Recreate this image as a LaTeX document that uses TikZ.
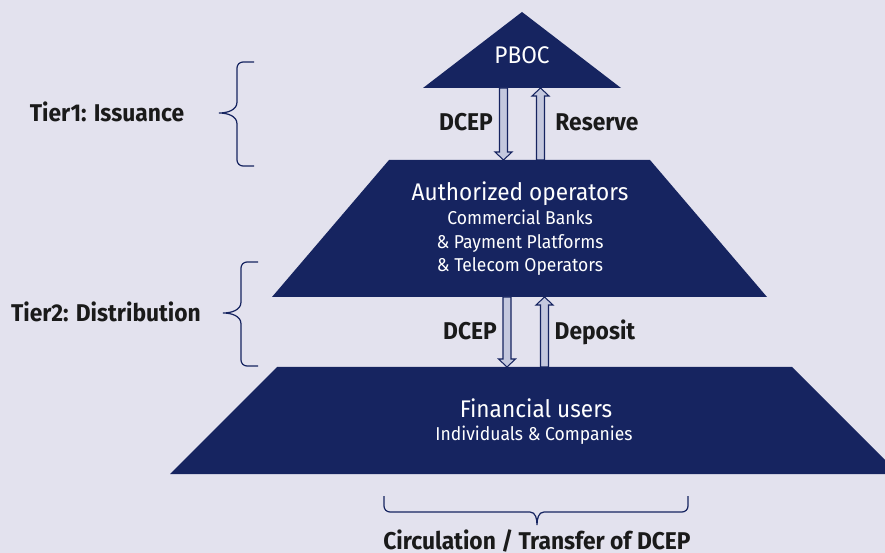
\documentclass[tikz,border=0pt]{standalone}
\usepackage{fontspec}
\setmainfont[FakeStretch=0.94]{Fira Sans}
\usetikzlibrary{calc}

\definecolor{navy}{RGB}{22,36,96}
\definecolor{paper}{RGB}{227,226,238}
\definecolor{pale}{RGB}{196,200,222}
\definecolor{ink}{RGB}{26,26,26}

\begin{document}
\begin{tikzpicture}[x=0.02cm, y=-0.02cm,
    tier/.style={fill=navy},
    title/.style={text=white, anchor=base, font=\fontsize{13.7}{16}\selectfont},
    sub/.style={text=white, align=center, font=\fontsize{10.6}{13.4}\selectfont},
    tag/.style={text=ink, anchor=base, font=\bfseries\fontsize{13.8}{16}\selectfont},
    curly/.style={draw=navy, line width=0.7pt},
    hollow/.style={draw=navy, fill=pale, line width=0.6pt, line join=miter}]

    % page
    \fill[paper] (0,0) rectangle (885,553);
    \useasboundingbox (0,0) rectangle (885,553);

    % the three tiers
    \fill[tier] (522,12) -- (621,88) -- (423,88) -- cycle;
    \fill[tier] (389,160) -- (650,160) -- (767,297) -- (272,297) -- cycle;
    \fill[tier] (277,367) -- (792,367) -- (899,474) -- (170,474) -- cycle;

    \node[title] (pboc) at (522,64) {PBOC};
    \node[title] (auth) at (520,201) {Authorized operators};
    \node[sub] (authsub) at (520,243) {Commercial Banks\\\& Payment Platforms\\\& Telecom Operators};
    \node[title] (users) at (536,418) {Financial users};
    \node[sub, anchor=base] (userssub) at (534,440) {Individuals \& Companies};

    % arrow ends on the tier edges
    \coordinate (dn1a) at (503.5,88);  \coordinate (dn1b) at (503.5,160);
    \coordinate (up1a) at (540.5,160); \coordinate (up1b) at (540.5,88);
    \coordinate (dn2a) at (507,297);   \coordinate (dn2b) at (507,367);
    \coordinate (up2a) at (544.5,367); \coordinate (up2b) at (544.5,297);

    \foreach \a/\b/\s in {dn1a/dn1b/1, up1a/up1b/-1, dn2a/dn2b/1, up2a/up2b/-1}
        \draw[hollow] ($(\a)+(-4,0)$) -- ($(\b)+(-4,-8*\s)$) -- ($(\b)+(-8.5,-8*\s)$)
            -- (\b) -- ($(\b)+(8.5,-8*\s)$) -- ($(\b)+(4,-8*\s)$) -- ($(\a)+(4,0)$) -- cycle;

    \node[tag] (dcep1) at (466,131) {DCEP};
    \node[tag] (reserve) at (597,131) {Reserve};
    \node[tag] (dcep2) at (470,340) {DCEP};
    \node[tag] (deposit) at (595,340) {Deposit};

    % braces
    \draw[curly] (254,62) -- (243,62) to[out=180,in=90] (237,68) -- (237,102)
        to[out=-90,in=0] (219,113) to[out=0,in=90] (237,124) -- (237,160)
        to[out=-90,in=180] (243,166) -- (254,166);
    \draw[curly] (258,262) -- (247,262) to[out=180,in=90] (241,268) -- (241,302)
        to[out=-90,in=0] (223,313) to[out=0,in=90] (241,324) -- (241,360)
        to[out=-90,in=180] (247,366) -- (258,366);
    \draw[curly] (384,496) -- (384,506) to[out=-90,in=180] (390,512) -- (530,512)
        to[out=0,in=90] (537,525) to[out=90,in=180] (544,512) -- (682,512)
        to[out=0,in=-90] (688,506) -- (688,496);

    \node[tag] (tier1) at (107,122) {Tier1: Issuance};
    \node[tag] (tier2) at (106,322) {Tier2: Distribution};
    \node[tag] (circ) at (537,549) {Circulation / Transfer of DCEP};
\end{tikzpicture}
\end{document}
